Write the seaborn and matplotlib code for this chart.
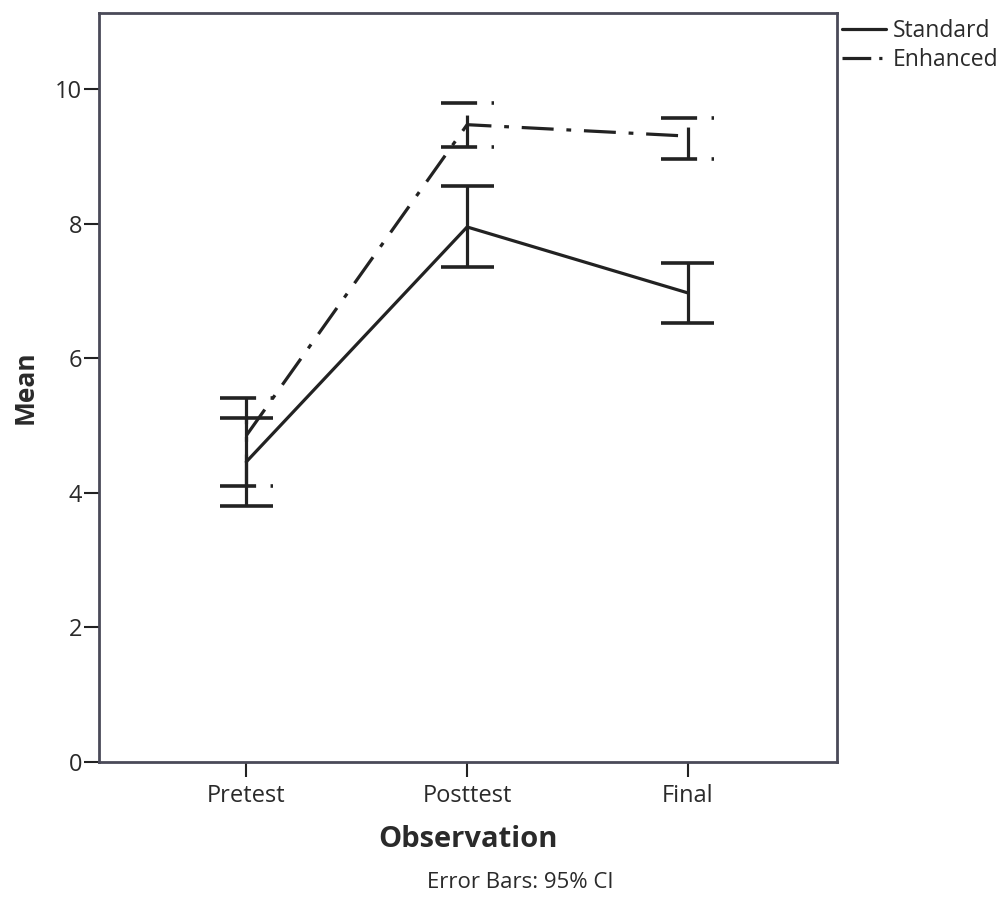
import numpy as np
import pandas as pd
import matplotlib
matplotlib.use("Agg")
import matplotlib.pyplot as plt
import seaborn as sns
from matplotlib.lines import Line2D

# values
observations = ["Pretest", "Posttest", "Final"]
standard_mean = [4.46, 7.95, 6.97]
standard_low = [3.80, 7.36, 6.52]
standard_high = [5.11, 8.56, 7.41]
enhanced_mean = [4.85, 9.47, 9.30]
enhanced_low = [4.10, 9.14, 8.96]
enhanced_high = [5.41, 9.79, 9.57]
y_ticks = [0, 2, 4, 6, 8, 10]

sns.set_style("white")
plt.rcParams['font.family'] = ['Open Sans', 'DejaVu Sans']

df = pd.DataFrame({
    "Observation": observations * 2,
    "Mean": standard_mean + enhanced_mean,
    "Group": ["Standard"] * 3 + ["Enhanced"] * 3,
})
df["x"] = np.tile(np.arange(len(observations)), 2)

dashdot = (0, (10, 4, 1.5, 4))
ink = "#222222"
frame = "#4a4a58"
txt = "#2a2a2a"

fig = plt.figure(figsize=(10.02, 9.07), dpi=100)
ax = fig.add_axes([0.0988, 0.1599, 0.7365, 0.8258])

sns.lineplot(data=df, x="x", y="Mean", hue="Group", style="Group",
             palette={"Standard": ink, "Enhanced": ink},
             dashes={"Standard": "", "Enhanced": dashdot[1]},
             linewidth=2.3, legend=False, ax=ax)

xs = np.arange(len(observations))
cap = 0.12
# Standard error bars (solid)
ax.vlines(xs, standard_low, standard_high, color=ink, linewidth=2.3)
ax.hlines(standard_low, xs - cap, xs + cap, color=ink, linewidth=2.6)
ax.hlines(standard_high, xs - cap, xs + cap, color=ink, linewidth=2.6)
# Enhanced error bars (dash-dot)
ax.vlines(xs, enhanced_low, enhanced_high, color=ink, linewidth=2.3, linestyle=dashdot)
ax.hlines(enhanced_low, xs - cap, xs + cap, color=ink, linewidth=2.6, linestyle=dashdot)
ax.hlines(enhanced_high, xs - cap, xs + cap, color=ink, linewidth=2.6, linestyle=dashdot)

ax.set_xlim(-0.667, 2.675)
ax.set_ylim(0, 11.13)
ax.set_xticks(xs)
ax.set_xticklabels(observations)
ax.set_yticks(y_ticks)
ax.tick_params(axis="both", bottom=True, left=True, direction="out", length=11,
               width=1.5, color=ink, labelsize=17, labelcolor=txt, pad=5)
ax.tick_params(axis="y", pad=1)
for s in ax.spines.values():
    s.set_color(frame)
    s.set_linewidth(2)

ax.set_xlabel("Observation", fontsize=21, fontweight="bold", color=txt, labelpad=12)
ax.set_ylabel("Mean", fontsize=19, fontweight="bold", color=txt, labelpad=12)

handles = [Line2D([], [], color=ink, linewidth=2.3, label="Standard"),
           Line2D([], [], color=ink, linewidth=2.3, linestyle=(0, (9, 2.5, 1, 2.5)),
                  label="Enhanced")]
ax.legend(handles=handles, loc="upper left", bbox_to_anchor=(0.995, 1.004),
          frameon=False, fontsize=16.5, handlelength=1.9, handletextpad=0.3,
          labelspacing=0.2, borderaxespad=0.3, borderpad=0.1, labelcolor=txt)

fig.text(0.519, 0.027, "Error Bars: 95% CI", ha="center", va="center",
         fontsize=16, color=txt)

fig.savefig("out.png", dpi=100)
